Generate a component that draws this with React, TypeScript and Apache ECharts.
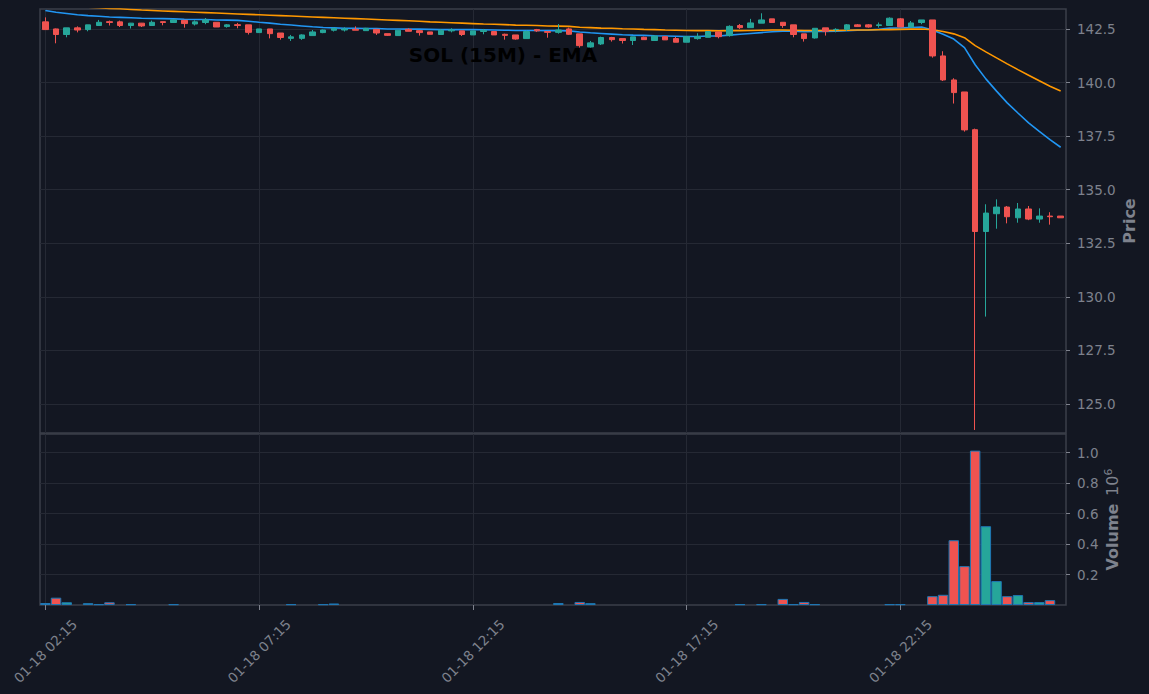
import React, { useEffect, useRef } from "react";
import * as echarts from "echarts";

const categories = [
  "01-18 02:15", "01-18 02:30", "01-18 02:45",
  "01-18 03:00", "01-18 03:15", "01-18 03:30", "01-18 03:45",
  "01-18 04:00", "01-18 04:15", "01-18 04:30", "01-18 04:45",
  "01-18 05:00", "01-18 05:15", "01-18 05:30", "01-18 05:45",
  "01-18 06:00", "01-18 06:15", "01-18 06:30", "01-18 06:45",
  "01-18 07:00", "01-18 07:15", "01-18 07:30", "01-18 07:45",
  "01-18 08:00", "01-18 08:15", "01-18 08:30", "01-18 08:45",
  "01-18 09:00", "01-18 09:15", "01-18 09:30", "01-18 09:45",
  "01-18 10:00", "01-18 10:15", "01-18 10:30", "01-18 10:45",
  "01-18 11:00", "01-18 11:15", "01-18 11:30", "01-18 11:45",
  "01-18 12:00", "01-18 12:15", "01-18 12:30", "01-18 12:45",
  "01-18 13:00", "01-18 13:15", "01-18 13:30", "01-18 13:45",
  "01-18 14:00", "01-18 14:15", "01-18 14:30", "01-18 14:45",
  "01-18 15:00", "01-18 15:15", "01-18 15:30", "01-18 15:45",
  "01-18 16:00", "01-18 16:15", "01-18 16:30", "01-18 16:45",
  "01-18 17:00", "01-18 17:15", "01-18 17:30", "01-18 17:45",
  "01-18 18:00", "01-18 18:15", "01-18 18:30", "01-18 18:45",
  "01-18 19:00", "01-18 19:15", "01-18 19:30", "01-18 19:45",
  "01-18 20:00", "01-18 20:15", "01-18 20:30", "01-18 20:45",
  "01-18 21:00", "01-18 21:15", "01-18 21:30", "01-18 21:45",
  "01-18 22:00", "01-18 22:15", "01-18 22:30", "01-18 22:45",
  "01-18 23:00", "01-18 23:15", "01-18 23:30", "01-18 23:45",
  "01-19 00:00", "01-19 00:15", "01-19 00:30", "01-19 00:45",
  "01-19 01:00", "01-19 01:15", "01-19 01:30", "01-19 01:45",
  "01-19 02:00",
];

const opens = [
  142.83, 142.5, 142.24, 142.55, 142.47, 142.66, 142.84, 142.83, 142.66, 142.77,
  142.66, 142.84, 142.8, 142.9, 142.73, 142.8, 142.81, 142.61, 142.7, 142.69,
  142.33, 142.5, 142.31, 142.06, 142.06, 142.19, 142.33, 142.44, 142.45, 142.48,
  142.42, 142.48, 142.28, 142.19, 142.48, 142.42, 142.36, 142.24, 142.41, 142.41,
  142.22, 142.38, 142.38, 142.25, 142.22, 142.05, 142.47, 142.38, 142.34, 142.5,
  142.27, 141.66, 141.8, 142.1, 142.05, 141.96, 142.11, 141.96, 142.14, 142.05,
  141.88, 142.05, 142.11, 142.36, 142.19, 142.66, 142.56, 142.77, 142.97, 142.81,
  142.69, 142.27, 142.08, 142.55, 142.47, 142.48, 142.69, 142.69, 142.66, 142.66,
  142.97, 142.59, 142.8, 142.92, 141.24, 140.12, 139.56, 137.8, 133.05, 133.88,
  134.19, 133.69, 134.1, 133.63, 133.77, 133.77,
];
const highs = [
  143.04, 142.52, 142.55, 142.62, 142.69, 142.92, 142.89, 142.89, 142.78, 142.78,
  142.89, 142.84, 142.94, 142.9, 142.9, 143.01, 142.81, 142.73, 142.78, 142.69,
  142.5, 142.5, 142.31, 142.22, 142.25, 142.45, 142.47, 142.55, 142.58, 142.62,
  142.55, 142.5, 142.28, 142.44, 142.53, 142.44, 142.36, 142.48, 142.53, 142.41,
  142.41, 142.5, 142.4, 142.28, 142.22, 142.42, 142.5, 142.38, 142.73, 142.56,
  142.27, 141.94, 142.14, 142.13, 142.05, 142.13, 142.14, 142.17, 142.14, 142.13,
  142.14, 142.3, 142.38, 142.36, 142.67, 142.73, 142.97, 143.23, 142.97, 142.81,
  142.69, 142.27, 142.53, 142.55, 142.53, 142.73, 142.73, 142.73, 142.8, 143.04,
  143.01, 142.87, 142.92, 142.92, 141.46, 140.2, 139.56, 137.85, 134.32, 134.55,
  134.24, 134.38, 134.24, 134.13, 133.95, 133.77,
];
const lows = [
  142.46, 141.83, 142.11, 142.34, 142.39, 142.66, 142.66, 142.59, 142.52, 142.59,
  142.66, 142.67, 142.8, 142.56, 142.66, 142.72, 142.59, 142.56, 142.53, 142.24,
  142.33, 142.06, 142.0, 141.94, 141.99, 142.19, 142.3, 142.38, 142.38, 142.44,
  142.42, 142.22, 142.17, 142.19, 142.39, 142.19, 142.25, 142.22, 142.34, 142.17,
  142.22, 142.25, 142.22, 142.0, 142.0, 142.05, 142.36, 142.09, 142.28, 142.22,
  141.63, 141.63, 141.75, 141.91, 141.82, 141.75, 142.0, 141.96, 141.99, 141.88,
  141.88, 142.0, 142.11, 142.06, 142.14, 142.5, 142.56, 142.77, 142.78, 142.55,
  142.11, 141.91, 142.05, 142.19, 142.34, 142.41, 142.61, 142.56, 142.56, 142.66,
  142.59, 142.59, 142.72, 141.16, 140.07, 139.02, 137.71, 123.79, 129.08, 133.18,
  133.43, 133.46, 133.58, 133.46, 133.37, 133.69,
];
const closes = [
  142.47, 142.24, 142.55, 142.45, 142.69, 142.81, 142.8, 142.66, 142.77, 142.64,
  142.81, 142.8, 142.92, 142.75, 142.83, 142.92, 142.59, 142.69, 142.66, 142.34,
  142.5, 142.28, 142.1, 142.13, 142.22, 142.36, 142.45, 142.53, 142.5, 142.44,
  142.53, 142.31, 142.2, 142.44, 142.39, 142.33, 142.25, 142.44, 142.45, 142.24,
  142.41, 142.44, 142.22, 142.2, 142.03, 142.38, 142.41, 142.34, 142.45, 142.25,
  141.72, 141.85, 142.1, 142.0, 141.96, 142.13, 142.0, 142.17, 141.99, 141.88,
  142.14, 142.14, 142.38, 142.14, 142.62, 142.56, 142.78, 142.92, 142.8, 142.66,
  142.24, 142.05, 142.53, 142.39, 142.48, 142.69, 142.61, 142.59, 142.69, 143.0,
  142.59, 142.78, 142.92, 141.24, 140.12, 139.53, 137.79, 133.05, 133.91, 134.19,
  133.74, 134.1, 133.63, 133.77, 133.74, 133.69,
];
const volumes = [
  13000, 48000, 18000, 0, 12000, 5000, 18000, 0, 5000, 0,
  0, 0, 5000, 0, 0, 0, 0, 0, 0, 0,
  0, 0, 0, 5000, 0, 0, 5000, 10000, 0, 0,
  0, 0, 0, 0, 0, 0, 0, 0, 0, 0,
  0, 0, 0, 0, 0, 0, 0, 0, 13000, 0,
  20000, 12000, 0, 0, 0, 0, 0, 0, 0, 0,
  0, 0, 0, 0, 0, 5000, 0, 5000, 0, 40000,
  5000, 20000, 5000, 0, 0, 0, 0, 0, 0, 5000,
  5000, 0, 0, 58000, 67000, 425000, 255000, 1013000, 517000, 157000,
  58000, 65000, 19000, 19000, 32000, 0,
];
const emaFast = [
  143.36, 143.28, 143.22, 143.16, 143.12, 143.09, 143.06, 143.04, 143.02, 143.0,
  142.99, 142.98, 142.97, 142.95, 142.94, 142.94, 142.92, 142.91, 142.9, 142.86,
  142.81, 142.77, 142.72, 142.68, 142.64, 142.6, 142.57, 142.55, 142.53, 142.53,
  142.52, 142.52, 142.5, 142.5, 142.49, 142.49, 142.48, 142.47, 142.47, 142.47,
  142.47, 142.46, 142.45, 142.44, 142.43, 142.43, 142.43, 142.42, 142.42, 142.41,
  142.36, 142.32, 142.29, 142.26, 142.23, 142.21, 142.2, 142.18, 142.17, 142.16,
  142.15, 142.15, 142.17, 142.17, 142.21, 142.25, 142.29, 142.33, 142.37, 142.4,
  142.39, 142.37, 142.38, 142.38, 142.39, 142.42, 142.44, 142.45, 142.48, 142.54,
  142.55, 142.57, 142.59, 142.45, 142.25, 142.03, 141.63, 140.83, 140.17, 139.6,
  139.05, 138.58, 138.12, 137.72, 137.34, 136.98,
];
const emaSlow = [
  143.6, 143.58, 143.56, 143.54, 143.51, 143.49, 143.46, 143.44, 143.41, 143.38,
  143.36, 143.34, 143.32, 143.3, 143.28, 143.26, 143.24, 143.22, 143.2, 143.18,
  143.16, 143.14, 143.12, 143.1, 143.08, 143.06, 143.04, 143.02, 143.0, 142.98,
  142.96, 142.94, 142.92, 142.9, 142.88, 142.86, 142.83, 142.81, 142.79, 142.77,
  142.75, 142.73, 142.72, 142.7, 142.68, 142.67, 142.66, 142.64, 142.63, 142.62,
  142.58, 142.56, 142.54, 142.53, 142.51, 142.5, 142.48, 142.47, 142.45, 142.44,
  142.43, 142.42, 142.42, 142.41, 142.42, 142.42, 142.43, 142.44, 142.45, 142.45,
  142.44, 142.43, 142.43, 142.43, 142.43, 142.44, 142.45, 142.45, 142.46, 142.47,
  142.48, 142.49, 142.5, 142.46, 142.38, 142.27, 142.09, 141.72, 141.43, 141.15,
  140.87, 140.6, 140.34, 140.08, 139.83, 139.6,
];
const priceTicks = [125, 127.5, 130, 132.5, 135, 137.5, 140, 142.5];
const volumeTicks = [200000, 400000, 600000, 800000, 1000000];
const xTickEvery = 20;

const BG = "#131722";
const UP = "#26a69a";
const DOWN = "#ef5350";
const GREY = "#7e828d";
const GRIDLINE = "#252934";
const FRAME = "#3b3f4a";
const FONT = "DejaVu Sans";

export default function App() {
  const ref = useRef<HTMLDivElement>(null);
  useEffect(() => {
    document.body.style.margin = "0";
    document.body.style.background = BG;
    const chart = echarts.init(ref.current as HTMLDivElement, undefined, { renderer: "svg" });
    const showTick = (i: number) => i % xTickEvery === 0;
    const candles = categories.map((_, i) => [opens[i], closes[i], lows[i], highs[i]]);
    const volItems = volumes.map((v, i) => ({
      value: v,
      itemStyle: {
        color: closes[i] >= opens[i] ? UP : DOWN,
        borderColor: v > 0 ? "#1f77b4" : "rgba(0,0,0,0)",
        borderWidth: 1,
      },
    }));
    const option: any = {
      animation: false,
      backgroundColor: BG,
      title: {
        text: "SOL (15M) - EMA",
        left: 503,
        top: 45,
        padding: 0,
        textAlign: "center",
        textStyle: { color: "#000000", fontSize: 20, fontWeight: "bold", fontFamily: FONT },
      },
      grid: [
        { left: 40, top: 9, width: 1026, height: 424, show: true, backgroundColor: BG, borderColor: FRAME, borderWidth: 1.5, containLabel: false, outerBoundsMode: "none" },
        { left: 40, top: 434, width: 1026, height: 171, show: true, backgroundColor: BG, borderColor: FRAME, borderWidth: 1.5, containLabel: false, outerBoundsMode: "none" },
      ],
      xAxis: [
        {
          type: "category",
          gridIndex: 0,
          data: categories,
          boundaryGap: true,
          axisLine: { show: false },
          axisTick: { show: false },
          axisLabel: { show: false },
          splitLine: { show: true, interval: showTick, alignWithLabel: true, lineStyle: { color: GRIDLINE, width: 1 } },
        },
        {
          type: "category",
          gridIndex: 1,
          data: categories,
          boundaryGap: true,
          axisLine: { show: false },
          axisTick: { show: true, interval: showTick, alignWithLabel: true, length: 5, lineStyle: { color: GREY } },
          axisLabel: {
            show: true,
            interval: showTick,
            rotate: 45,
            align: "center",
            verticalAlign: "middle",
            margin: 46,
            color: GREY,
            fontSize: 13.5,
            fontFamily: FONT,
          },
          splitLine: { show: true, interval: showTick, alignWithLabel: true, lineStyle: { color: GRIDLINE, width: 1 } },
        },
      ],
      yAxis: [
        {
          type: "value",
          gridIndex: 0,
          position: "right",
          min: 123.65,
          max: 143.43,
          axisLine: { show: false },
          axisTick: { show: true, customValues: priceTicks, length: 4, lineStyle: { color: GREY } },
          axisLabel: { customValues: priceTicks, formatter: (v: number) => v.toFixed(1), margin: 11, color: GREY, fontSize: 13.5, fontFamily: FONT },
          splitLine: { show: true, lineStyle: { color: GRIDLINE, width: 1 } },
          name: "Price",
          nameLocation: "middle",
          nameRotate: 90,
          nameGap: 55,
          nameMoveOverlap: false,
          nameTextStyle: { color: GREY, fontSize: 16, fontWeight: "bold", fontFamily: FONT },
        },
        {
          type: "value",
          gridIndex: 1,
          position: "right",
          min: 0,
          max: 1122000,
          axisLine: { show: false },
          axisTick: { show: true, customValues: volumeTicks, length: 4, lineStyle: { color: GREY } },
          axisLabel: { customValues: volumeTicks, formatter: (v: number) => (v / 1e6).toFixed(1), margin: 11, color: GREY, fontSize: 13.5, fontFamily: FONT },
          splitLine: { show: true, lineStyle: { color: GRIDLINE, width: 1 } },
          name: "{b|Volume}  {n|10}{s|6}",
          nameLocation: "middle",
          nameRotate: 90,
          nameGap: 37,
          nameMoveOverlap: false,
          nameTextStyle: {
            color: GREY,
            fontFamily: FONT,
            rich: {
              b: { color: GREY, fontSize: 16, fontWeight: "bold", fontFamily: FONT },
              n: { color: GREY, fontSize: 16, fontFamily: FONT },
              s: { color: GREY, fontSize: 11, fontFamily: FONT, verticalAlign: "top", padding: [0, 0, 8, 0] },
            },
          },
        },
      ],
      series: [
        {
          type: "line",
          xAxisIndex: 0,
          yAxisIndex: 0,
          data: emaFast,
          symbol: "none",
          showSymbol: false,
          silent: true,
          lineStyle: { color: "#2196f3", width: 1.6 },
          z: 2,
        },
        {
          type: "line",
          xAxisIndex: 0,
          yAxisIndex: 0,
          data: emaSlow,
          symbol: "none",
          showSymbol: false,
          silent: true,
          lineStyle: { color: "#ff9800", width: 1.6 },
          z: 2,
        },
        {
          type: "candlestick",
          xAxisIndex: 0,
          yAxisIndex: 0,
          data: candles,
          barWidth: 6,
          silent: true,
          itemStyle: { color: UP, color0: DOWN, borderColor: UP, borderColor0: DOWN, borderWidth: 1 },
          z: 3,
        },
        {
          type: "bar",
          xAxisIndex: 1,
          yAxisIndex: 1,
          data: volItems,
          barWidth: "98%",
          silent: true,
        },
      ],
    };
    chart.setOption(option);
    return () => chart.dispose();
  }, []);
  return <div ref={ref} style={{ position: "fixed", left: 0, top: 0, width: 1149, height: 694 }} />;
}
